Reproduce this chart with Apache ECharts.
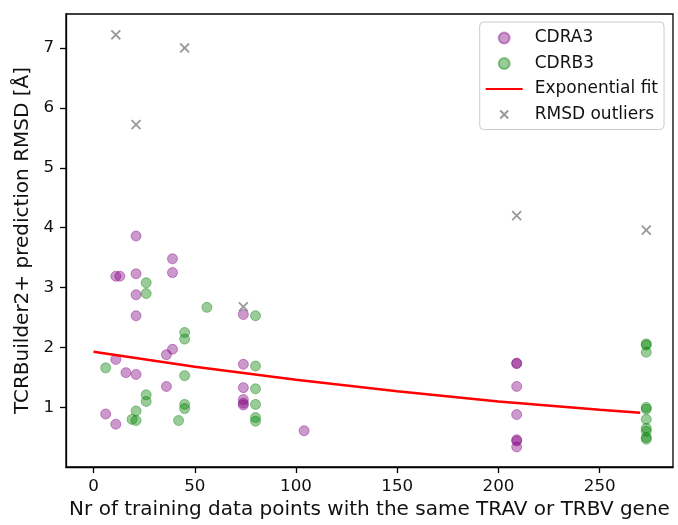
<!DOCTYPE html>
<html>
<head>
<meta charset="utf-8">
<script src="https://cdn.jsdelivr.net/npm/echarts@6/dist/echarts.min.js"></script>
<style>
  html, body { margin: 0; padding: 0; background: #fff; }
  #chart { width: 678px; height: 525px; }
</style>
</head>
<body>
<div id="chart"></div>
<script>
// CDRA3 loops: training points sharing the TRAV gene vs. prediction RMSD
const cdra3X = [6, 11, 11, 11, 13, 16, 21, 21, 21, 21, 21, 36, 36, 39, 39, 39,
                74, 74, 74, 74, 74, 74, 104, 209, 209, 209, 209, 209, 209, 209];
const cdra3Y = [0.89, 3.19, 1.80, 0.72, 3.19, 1.58, 3.86, 3.23, 2.88, 2.53, 1.55, 1.88, 1.35, 3.48, 3.25, 1.97,
                2.55, 1.72, 1.33, 1.13, 1.07, 1.04, 0.61, 1.74, 1.73, 1.35, 0.88, 0.46, 0.44, 0.34];

// CDRB3 loops: training points sharing the TRBV gene vs. prediction RMSD
const cdrb3X = [6, 19, 21, 21, 26, 26, 26, 26, 42, 45, 45, 45, 45, 45, 56,
                80, 80, 80, 80, 80, 80, 273, 273, 273, 273, 273, 273, 273, 273, 273, 273];
const cdrb3Y = [1.66, 0.80, 0.94, 0.78, 3.08, 2.90, 1.21, 1.10, 0.78, 2.25, 2.14, 1.53, 1.05, 0.98, 2.67,
                2.53, 1.69, 1.31, 1.05, 0.83, 0.77, 2.06, 2.04, 1.92, 1.00, 0.97, 0.80, 0.65, 0.60, 0.50, 0.47];

// Structures excluded as RMSD outliers
const outlierX = [11, 21, 45, 74, 209, 273];
const outlierY = [7.22, 5.72, 7.00, 2.68, 4.20, 3.96];

// Exponential fit curve, sampled along x
const fitX = [0, 50, 100, 150, 200, 250, 270];
const fitY = [1.93, 1.68, 1.46, 1.27, 1.10, 0.96, 0.91];

// Axis tick values
const xTicks = [0, 50, 100, 150, 200, 250];
const yTicks = [1, 2, 3, 4, 5, 6, 7];

const zip = (xs, ys) => xs.map((x, i) => [x, ys[i]]);

const FONT = 'DejaVu Sans';
const TEXT = '#111';
const PURPLE = 'rgba(128,0,128,0.5)';
const GREEN = 'rgba(0,128,0,0.5)';
// cross marker with a little empty margin so the legend icon stays small
const CROSS = 'path://M0,0M14,14M2,2L12,12M2,12L12,2';

const chart = echarts.init(document.getElementById('chart'), null, { renderer: 'canvas' });

const axisCommon = {
  type: 'value',
  splitLine: { show: false },
  axisLine: { show: true, onZero: false, lineStyle: { color: '#000', width: 1.3 } },
  axisTick: { show: true, inside: false, length: 6, lineStyle: { color: '#000', width: 1.3 } },
  axisLabel: { fontFamily: FONT, fontSize: 16.7, color: TEXT },
  nameLocation: 'middle',
  nameTextStyle: { fontFamily: FONT, fontSize: 20, color: TEXT }
};

chart.setOption({
  animation: false,
  backgroundColor: '#fff',
  grid: {
    left: 66, right: 5, top: 14, bottom: 58,
    show: true, borderColor: '#000', borderWidth: 1.3,
    outerBoundsMode: 'none'
  },
  xAxis: Object.assign({}, axisCommon, {
    min: -13.6, max: 286.2,
    name: 'Nr of training data points with the same TRAV or TRBV gene',
    nameGap: 29,
    axisTick: Object.assign({}, axisCommon.axisTick, { customValues: xTicks }),
    axisLabel: Object.assign({}, axisCommon.axisLabel, { customValues: xTicks, margin: 11 })
  }),
  yAxis: Object.assign({}, axisCommon, {
    min: 0.005, max: 7.567,
    name: 'TCRBuilder2+ prediction RMSD [Å]',
    nameGap: 31,
    nameRotate: 90,
    axisTick: Object.assign({}, axisCommon.axisTick, { customValues: yTicks }),
    axisLabel: Object.assign({}, axisCommon.axisLabel, { customValues: yTicks, margin: 12 })
  }),
  legend: {
    orient: 'vertical',
    right: 14,
    top: 22,
    data: [
      { name: 'CDRA3' },
      { name: 'CDRB3' },
      { name: 'Exponential fit', itemStyle: { color: 'transparent', borderColor: 'transparent', borderWidth: 0 } },
      { name: 'RMSD outliers' }
    ],
    itemWidth: 37,
    itemHeight: 11,
    itemGap: 8.5,
    padding: [7.5, 6, 6.5, 5],
    backgroundColor: 'rgba(255,255,255,0.8)',
    borderColor: '#cccccc',
    borderWidth: 1,
    borderRadius: 4,
    selectedMode: false,
    textStyle: { fontFamily: FONT, fontSize: 17, color: TEXT, padding: [0, 0, 0, 7] }
  },
  series: [
    {
      name: 'CDRA3',
      type: 'scatter',
      z: 2,
      symbol: 'circle',
      symbolSize: 10,
      data: zip(cdra3X, cdra3Y),
      itemStyle: { color: PURPLE, borderColor: PURPLE, borderWidth: 1 },
      emphasis: { disabled: true }
    },
    {
      name: 'CDRB3',
      type: 'scatter',
      z: 2,
      symbol: 'circle',
      symbolSize: 10,
      data: zip(cdrb3X, cdrb3Y),
      itemStyle: { color: GREEN, borderColor: GREEN, borderWidth: 1 },
      emphasis: { disabled: true }
    },
    {
      name: 'Exponential fit',
      type: 'line',
      z: 4,
      symbol: 'none',
      showSymbol: false,
      data: zip(fitX, fitY),
      itemStyle: { color: '#ff0000' },
      lineStyle: { color: '#ff0000', width: 2.5 },
      emphasis: { disabled: true }
    },
    {
      name: 'RMSD outliers',
      type: 'scatter',
      z: 3,
      symbol: CROSS,
      symbolKeepAspect: true,
      symbolSize: 12.5,
      data: zip(outlierX, outlierY),
      itemStyle: { color: 'transparent', borderColor: '#808080', borderWidth: 1.8 },
      emphasis: { disabled: true }
    }
  ]
});
</script>
</body>
</html>
